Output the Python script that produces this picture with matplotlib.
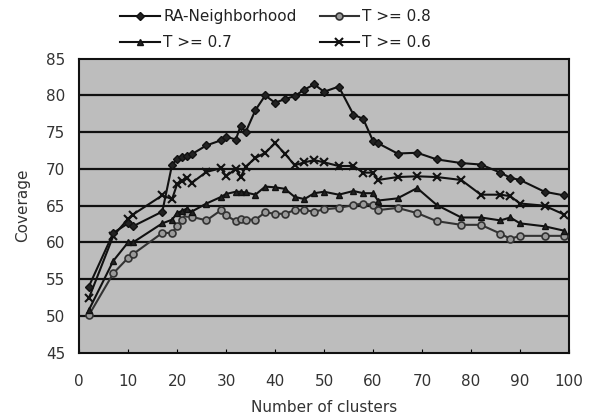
import matplotlib
matplotlib.use("Agg")
import matplotlib.pyplot as plt

# x: number of clusters (shared by all series)
clusters = [2, 7, 10, 11, 17, 19, 20, 21, 22, 23, 26, 29, 30, 32, 33, 34, 36, 38, 40,
            42, 44, 46, 48, 50, 53, 56, 58, 60, 61, 65, 69, 73, 78, 82, 86, 88, 90, 95, 99]

ra_neighborhood = [54.0, 61.3, 62.6, 62.2, 64.2, 70.6, 71.3, 71.6, 71.7, 72.0, 73.2, 73.9, 74.4,
                   74.0, 75.9, 75.0, 78.0, 80.0, 79.0, 79.5, 79.9, 80.8, 81.5, 80.5, 81.2, 77.4,
                   76.8, 73.8, 73.5, 72.1, 72.2, 71.3, 70.8, 70.6, 69.5, 68.8, 68.5, 66.9, 66.4]

t_08 = [50.1, 55.8, 57.9, 58.4, 61.3, 61.3, 62.2, 63.1, 64.0, 63.5, 63.0, 64.4, 63.7,
        62.9, 63.2, 63.1, 63.1, 64.1, 63.9, 63.9, 64.4, 64.4, 64.2, 64.5, 64.7, 65.1,
        65.3, 65.1, 64.4, 64.7, 64.0, 62.9, 62.4, 62.4, 61.2, 60.5, 60.9, 60.9, 60.9]

t_07 = [50.8, 57.5, 60.0, 60.0, 62.6, 63.1, 64.0, 64.3, 64.6, 64.2, 65.3, 66.2, 66.6,
        66.9, 66.9, 66.8, 66.5, 67.6, 67.5, 67.3, 66.2, 65.9, 66.7, 66.9, 66.5, 67.0,
        66.7, 66.7, 65.7, 66.0, 67.4, 65.1, 63.4, 63.4, 63.0, 63.4, 62.6, 62.2, 61.6]

t_06 = [52.4, 60.9, 63.2, 63.8, 66.4, 65.9, 67.9, 68.3, 68.8, 68.1, 69.6, 70.1, 69.0,
        70.0, 68.9, 70.3, 71.5, 72.2, 73.5, 72.1, 70.5, 70.9, 71.2, 70.9, 70.4, 70.4,
        69.5, 69.5, 68.5, 68.9, 69.0, 68.9, 68.5, 66.5, 66.5, 66.3, 65.3, 65.0, 63.8]

plt.rcParams['font.family'] = ['DejaVu Sans']

fig = plt.figure(figsize=(5.94, 4.16), dpi=100)
ax = fig.add_axes([0.133, 0.152, 0.825, 0.707])
ax.set_facecolor('#bdbdbd')

for v in range(50, 85, 5):
    ax.axhline(v, color='#111111', lw=1.6, zorder=1)

l_ra, = ax.plot(clusters, ra_neighborhood, color='#111111', lw=1.5, marker='D', ms=4,
                mfc='#222222', mec='#111111', zorder=5, label='RA-Neighborhood')
l_07, = ax.plot(clusters, t_07, color='#111111', lw=1.5, marker='^', ms=5,
                mfc='#222222', mec='#111111', zorder=4, label='T >= 0.7')
l_08, = ax.plot(clusters, t_08, color='#333333', lw=1.5, marker='o', ms=5,
                mfc='#9a9a9a', mec='#333333', mew=1.2, zorder=3, label='T >= 0.8')
l_06, = ax.plot(clusters, t_06, color='#111111', lw=1.5, marker='x', ms=6,
                mew=1.5, zorder=4, label='T >= 0.6')

ax.set_xlim(0, 100)
ax.set_ylim(45, 85)
ax.set_xticks(range(0, 101, 10))
ax.set_yticks(range(45, 86, 5))
ax.tick_params(axis='y', length=0, pad=10, labelsize=11, labelcolor='#333333')
ax.tick_params(axis='x', length=3, direction='in', pad=15, labelsize=11, labelcolor='#333333')
for s in ax.spines.values():
    s.set_color('#111111')
    s.set_linewidth(1.5)

ax.set_xlabel('Number of clusters', fontsize=11, color='#333333', labelpad=8)
ax.set_ylabel('Coverage', fontsize=11, color='#333333', labelpad=11)

fig.legend(handles=[l_ra, l_07, l_08, l_06], ncol=2, frameon=False,
           loc='upper left', bbox_to_anchor=(0.19, 0.997), borderpad=0, fontsize=11,
           handlelength=2.6, columnspacing=1.5, labelspacing=0.72, handletextpad=0.2,
           labelcolor='#222222')

fig.savefig('out.png', dpi=100, facecolor='white')
